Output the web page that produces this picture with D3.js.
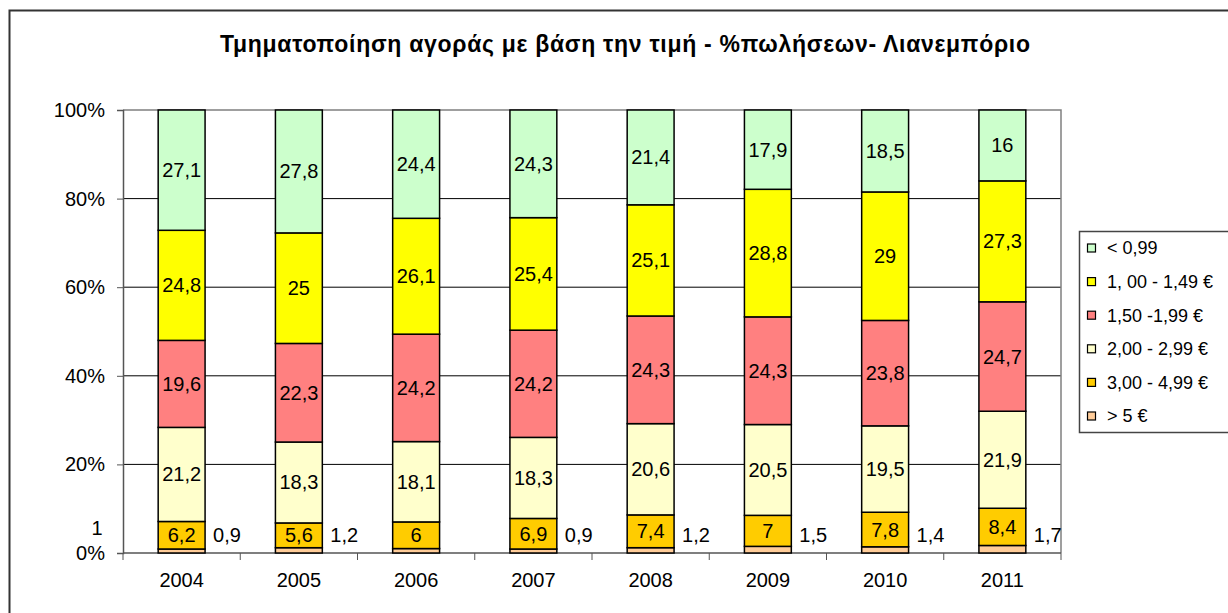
<!DOCTYPE html>
<html>
<head>
<meta charset="utf-8">
<script src="https://cdn.jsdelivr.net/npm/d3@7"></script>
<style>
  body { margin: 0; background: #fff; }
  svg { font-family: "Liberation Sans", Arial, sans-serif; }
</style>
</head>
<body>
<div id="chart-holder"></div>
<script>
// chart data
var years = ["2004", "2005", "2006", "2007", "2008", "2009", "2010", "2011"];
var under099 = [27.1, 27.8, 24.4, 24.3, 21.4, 17.9, 18.5, 16];
var from100to149 = [24.8, 25, 26.1, 25.4, 25.1, 28.8, 29, 27.3];
var from150to199 = [19.6, 22.3, 24.2, 24.2, 24.3, 24.3, 23.8, 24.7];
var from200to299 = [21.2, 18.3, 18.1, 18.3, 20.6, 20.5, 19.5, 21.9];
var from300to499 = [6.2, 5.6, 6, 6.9, 7.4, 7, 7.8, 8.4];
var over5 = [0.9, 1.2, 1, 0.9, 1.2, 1.5, 1.4, 1.7];
var seriesNames = ["> 5 €", "3,00 - 4,99 €", "2,00 - 2,99 €", "1,50 -1,99 €", "1, 00 - 1,49 €", "< 0,99"];
var seriesColors = ["#FFCC99", "#FFCC00", "#FFFFCC", "#FF8080", "#FFFF00", "#CCFFCC"];
var yTicks = [0, 0.2, 0.4, 0.6, 0.8, 1];
var title = "Τμηματοποίηση αγοράς με βάση την τιμή - %πωλήσεων- Λιανεμπόριο";

var seriesValues = [over5, from300to499, from200to299, from150to199, from100to149, under099];
var keys = d3.range(seriesValues.length);
var rows = years.map(function (y, i) {
  var r = { year: y };
  keys.forEach(function (k) { r[k] = seriesValues[k][i]; });
  return r;
});

var W = 1228, H = 613;
var margin = { top: 110, right: 167, bottom: 60, left: 123 };

var svg = d3.select("#chart-holder").append("svg")
  .attr("width", W)
  .attr("height", H);

// outer chart border (runs off the right/bottom like the source)
svg.append("rect")
  .attr("x", 9.5).attr("y", 10.5)
  .attr("width", W + 20).attr("height", H + 20)
  .attr("fill", "none").attr("stroke", "#333").attr("stroke-width", 2);

svg.append("text")
  .attr("x", 625).attr("y", 52)
  .attr("text-anchor", "middle")
  .attr("font-size", 23).attr("font-weight", "bold")
  .attr("textLength", 810).attr("lengthAdjust", "spacing")
  .text(title);

var x = d3.scaleBand().domain(years)
  .range([margin.left, W - margin.right])
  .paddingInner(0.6).paddingOuter(0.3);
var y = d3.scaleLinear().domain([0, 1]).range([H - margin.bottom, margin.top]);
var step = x.step();

// gridlines
svg.append("g").selectAll("line")
  .data(yTicks.filter(function (t) { return t > 0 && t < 1; }))
  .enter().append("line")
  .attr("x1", margin.left).attr("x2", W - margin.right)
  .attr("y1", function (d) { return y(d); }).attr("y2", function (d) { return y(d); })
  .attr("stroke", "#000").attr("stroke-width", 1);

// plot border top & right
svg.append("path")
  .attr("d", "M" + margin.left + "," + y(1) + "H" + (W - margin.right) + "V" + y(0))
  .attr("fill", "none").attr("stroke", "#808080").attr("stroke-width", 1.5);

// y axis
var yAxis = svg.append("g")
  .attr("transform", "translate(" + margin.left + ",0)")
  .call(d3.axisLeft(y).tickValues(yTicks).tickSize(6).tickPadding(12)
    .tickFormat(function (d) { return Math.round(d * 100) + "%"; }));
yAxis.select(".domain").attr("stroke", "#555").attr("stroke-width", 1.5);
yAxis.selectAll(".tick line").attr("stroke", "#555");
yAxis.selectAll("text").attr("font-size", 20).attr("fill", "#000")
  .attr("font-family", "Liberation Sans, Arial, sans-serif");

// x axis: ticks at category boundaries
var xa = svg.append("g");
xa.append("line")
  .attr("x1", margin.left).attr("x2", W - margin.right)
  .attr("y1", y(0)).attr("y2", y(0))
  .attr("stroke", "#555").attr("stroke-width", 1.5);
xa.selectAll(".xt").data(d3.range(years.length + 1)).enter().append("line")
  .attr("x1", function (i) { return margin.left + i * step; })
  .attr("x2", function (i) { return margin.left + i * step; })
  .attr("y1", y(0)).attr("y2", y(0) + 7)
  .attr("stroke", "#555");
xa.selectAll(".xl").data(years).enter().append("text")
  .attr("x", function (d) { return x(d) + x.bandwidth() / 2; })
  .attr("y", y(0) + 34)
  .attr("text-anchor", "middle").attr("font-size", 20)
  .text(function (d) { return d; });

// bars
var stacked = d3.stack().keys(keys).offset(d3.stackOffsetExpand)(rows);
var fmt = function (v) { return String(v).replace(".", ","); };

var layers = svg.append("g").selectAll("g")
  .data(stacked).enter().append("g")
  .attr("fill", function (d) { return seriesColors[d.key]; });

layers.selectAll("rect")
  .data(function (d) { return d; })
  .enter().append("rect")
  .attr("x", function (d) { return x(d.data.year); })
  .attr("y", function (d) { return y(d[1]); })
  .attr("width", x.bandwidth())
  .attr("height", function (d) { return y(d[0]) - y(d[1]); })
  .attr("stroke", "#000").attr("stroke-width", 1.5);

// labels inside segments (all but the smallest series)
stacked.slice(1).forEach(function (layer) {
  svg.append("g").selectAll("text")
    .data(layer).enter().append("text")
    .attr("x", function (d) { return x(d.data.year) + x.bandwidth() / 2; })
    .attr("y", function (d) { return (y(d[0]) + y(d[1])) / 2; })
    .attr("dy", "0.35em")
    .attr("text-anchor", "middle").attr("font-size", 20)
    .text(function (d) { return fmt(d.data[layer.key]); });
});

// "> 5 €" labels sit beside the bars; 2006's ended up left of the axis
svg.append("g").selectAll("text")
  .data(stacked[0]).enter().append("text")
  .attr("x", function (d, i) {
    return i === 2 ? margin.left - 26 : x(d.data.year) + x.bandwidth() + 8;
  })
  .attr("y", function (d, i) { return i === 2 ? y(0.056) : y(0.041); })
  .attr("dy", "0.35em")
  .attr("text-anchor", function (d, i) { return i === 2 ? "middle" : "start"; })
  .attr("font-size", 20)
  .text(function (d) { return fmt(d.data[0]); });

// legend
var lg = svg.append("g").attr("transform", "translate(1079,231)");
lg.append("rect")
  .attr("x", 0.5).attr("y", 0.5).attr("width", 200).attr("height", 201)
  .attr("fill", "#fff").attr("stroke", "#444").attr("stroke-width", 1.5);
var items = lg.selectAll(".item")
  .data(keys.slice().reverse()).enter().append("g")
  .attr("transform", function (d, i) { return "translate(0," + (17 + i * 33.6) + ")"; });
items.append("rect")
  .attr("x", 8.5).attr("y", -4).attr("width", 8).attr("height", 8)
  .attr("fill", function (d) { return seriesColors[d]; })
  .attr("stroke", "#000").attr("stroke-width", 1.2);
items.append("text")
  .attr("x", 28).attr("dy", "0.35em").attr("font-size", 18)
  .text(function (d) { return seriesNames[d]; });
</script>
</body>
</html>
